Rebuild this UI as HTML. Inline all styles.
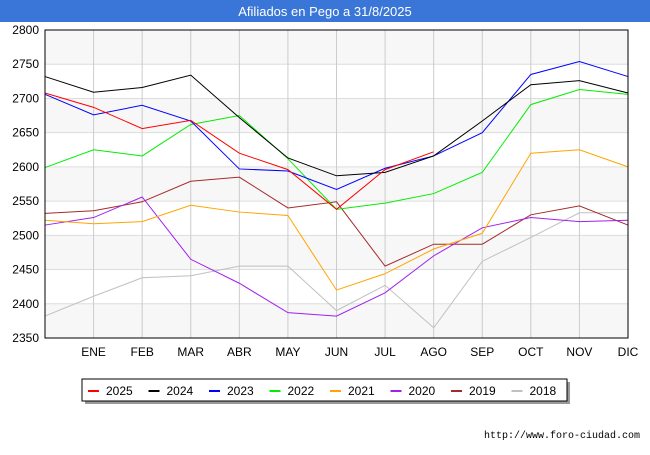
<!DOCTYPE html>
<html><head><meta charset="utf-8"><style>
body{margin:0;background:#fff;font-family:"Liberation Sans",sans-serif}
</style></head><body>
<svg width="650" height="450" xmlns="http://www.w3.org/2000/svg">
<rect x="0" y="0" width="650" height="22" fill="#3a76d8"/>
<text x="325" y="16" text-anchor="middle" fill="#fff" font-size="13">Afiliados en Pego a 31/8/2025</text>
<g id="grid"></g><g id="series"></g>
<rect x="45" y="30" width="583" height="308" fill="none" stroke="#000" stroke-width="1"/>
<g id="axes" font-size="12" fill="#000"></g>
<rect x="85" y="382" width="485" height="22" fill="#999"/>
<rect x="82" y="379" width="485" height="22" fill="#fff" stroke="#000"/>
<g id="legend" font-size="12"></g>
<text x="640" y="438" text-anchor="end" font-size="10" font-family="Liberation Mono,monospace">http://www.foro-ciudad.com</text>
</svg>
<script>
const months=["","ENE","FEB","MAR","ABR","MAY","JUN","JUL","AGO","SEP","OCT","NOV","DIC"];
const yTicks=[2350,2400,2450,2500,2550,2600,2650,2700,2750,2800];
const seriesNames=["2025","2024","2023","2022","2021","2020","2019","2018"];
const colors=["#ff0000","#000000","#0000ff","#00ee00","#ffa500","#a020f0","#a52a2a","#c0c0c0"];
const s2025=[2708,2687,2656,2668,2620,2596,2538,2596,2622];
const s2024=[2732,2709,2716,2734,2672,2613,2587,2592,2616,2667,2720,2726,2708];
const s2023=[2706,2676,2690,2667,2597,2594,2567,2598,2616,2650,2735,2754,2732];
const s2022=[2599,2625,2616,2662,2675,2612,2538,2547,2561,2592,2691,2713,2706];
const s2021=[2522,2517,2520,2544,2534,2529,2420,2444,2480,2503,2620,2625,2600];
const s2020=[2515,2526,2556,2465,2430,2387,2382,2416,2470,2511,2526,2520,2522];
const s2019=[2532,2536,2549,2579,2585,2540,2549,2455,2487,2487,2530,2543,2515];
const s2018=[2382,2411,2438,2441,2455,2455,2390,2427,2365,2462,2497,2533,2533];
const allSeries=[s2025,s2024,s2023,s2022,s2021,s2020,s2019,s2018];
const NS="http://www.w3.org/2000/svg";
const X0=45,X1=628,Y0=338,Y1=30,ymin=2350,ymax=2800;
const x=i=>X0+(X1-X0)*i/(months.length-1);
const y=v=>Y0-(v-ymin)/(ymax-ymin)*(Y0-Y1);
function mk(t,a,p){const e=document.createElementNS(NS,t);for(const k in a)e.setAttribute(k,a[k]);p.appendChild(e);return e;}
const grid=document.getElementById('grid'),axes=document.getElementById('axes'),ser=document.getElementById('series'),leg=document.getElementById('legend');
for(let k=0;k<yTicks.length-1;k++){
 if((yTicks.length-2-k)%2===0){const r=mk('rect',{x:X0,y:y(yTicks[k+1]),width:X1-X0,height:y(yTicks[k])-y(yTicks[k+1]),fill:'#f7f7f7'},grid);
 
 }
}
yTicks.forEach(v=>{const l=mk('line',{x1:X0,x2:X1,y1:y(v),y2:y(v),stroke:'#dddddd'},grid);
 
 
 const t=mk('text',{x:X0-6,y:y(v)+4,'text-anchor':'end'},axes);t.textContent=v;
 
 });
months.forEach((m,i)=>{if(i===0)return;const l=mk('line',{x1:x(i),x2:x(i),y1:Y1,y2:Y0,stroke:'#cccccc'},grid);
 
 
 const t=mk('text',{x:x(i),y:356,'text-anchor':'middle'},axes);t.textContent=m;
 
 });
allSeries.slice().reverse().forEach((s,ri)=>{const k=allSeries.length-1-ri;
 const p=mk('polyline',{points:s.map((v,i)=>x(i)+','+y(v)).join(' '),fill:'none',stroke:colors[k],'stroke-width':1},ser);
 
 });
seriesNames.forEach((n,k)=>{const lx=88+k*60.5;
 const l=mk('line',{x1:lx,x2:lx+11,y1:391,y2:391,stroke:colors[k],'stroke-width':2},leg);
 
 
 const t=mk('text',{x:lx+18,y:395},leg);t.textContent=n;
 
 });
</script>
</body></html>
